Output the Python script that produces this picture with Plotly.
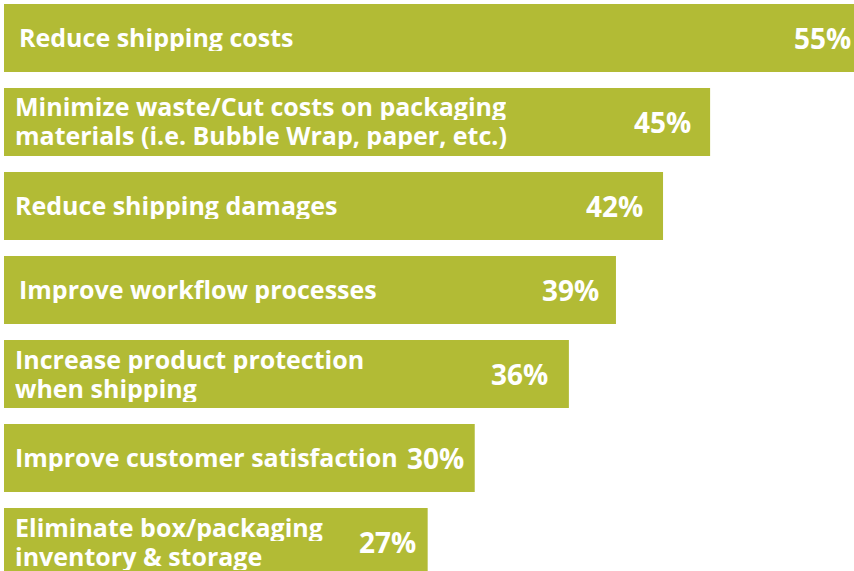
import plotly.graph_objects as go

categories = [
    "Reduce shipping costs",
    "Minimize waste/Cut costs on packaging<br>materials (i.e. Bubble Wrap, paper, etc.)",
    "Reduce shipping damages",
    "Improve workflow processes",
    "Increase product protection<br>when shipping",
    "Improve customer satisfaction",
    "Eliminate box/packaging<br>inventory & storage",
]
values = [55, 45, 42, 39, 36, 30, 27]
value_labels = ["55%", "45%", "42%", "39%", "36%", "30%", "27%"]

# styling (pixel offsets of the in-bar texts, as laid out in the original)
name_indent = [13, 9, 9, 13, 9, 9, 9]
value_pad = [1, 17, 18, 15, 19, 9, 10]

BAR_COLOR = "#B2BB35"
FONT = "Open Sans"
XMAX = 54.17
LINE_GAP = 29

fig = go.Figure(
    go.Bar(
        x=values,
        y=list(range(len(categories))),
        orientation="h",
        marker=dict(color=BAR_COLOR, line=dict(width=0)),
        hoverinfo="skip",
    )
)

annotations = []
for i, (cat, v, lab) in enumerate(zip(categories, values, value_labels)):
    lines = cat.split("<br>")
    n = len(lines)
    for k, line in enumerate(lines):
        annotations.append(dict(
            x=0, y=i, xref="x", yref="y", text=line, showarrow=False,
            xanchor="left", yanchor="middle", align="left", xshift=name_indent[i],
            yshift=((n - 1) / 2 - k) * LINE_GAP + 1,
            height=28, valign="middle",
            font=dict(family=FONT, size=25, color="white", weight="bold"),
        ))
    annotations.append(dict(
        x=min(v, XMAX), y=i, xref="x", yref="y", text=lab, showarrow=False,
        xanchor="right", yanchor="middle", xshift=-value_pad[i],
        font=dict(family=FONT, size=28, color="white", weight="bold"),
    ))

fig.update_layout(
    width=854, height=571,
    margin=dict(l=4, r=0, t=0, b=0),
    paper_bgcolor="white", plot_bgcolor="white",
    bargap=0.19,
    showlegend=False,
    xaxis=dict(range=[0, XMAX], visible=False, fixedrange=True),
    yaxis=dict(range=[6.345, -0.452], visible=False, fixedrange=True),
    annotations=annotations,
)

fig.write_html(
    "out.html",
    config={"displayModeBar": False},
    post_script="document.body.style.margin='0';document.body.style.overflow='hidden';",
)
